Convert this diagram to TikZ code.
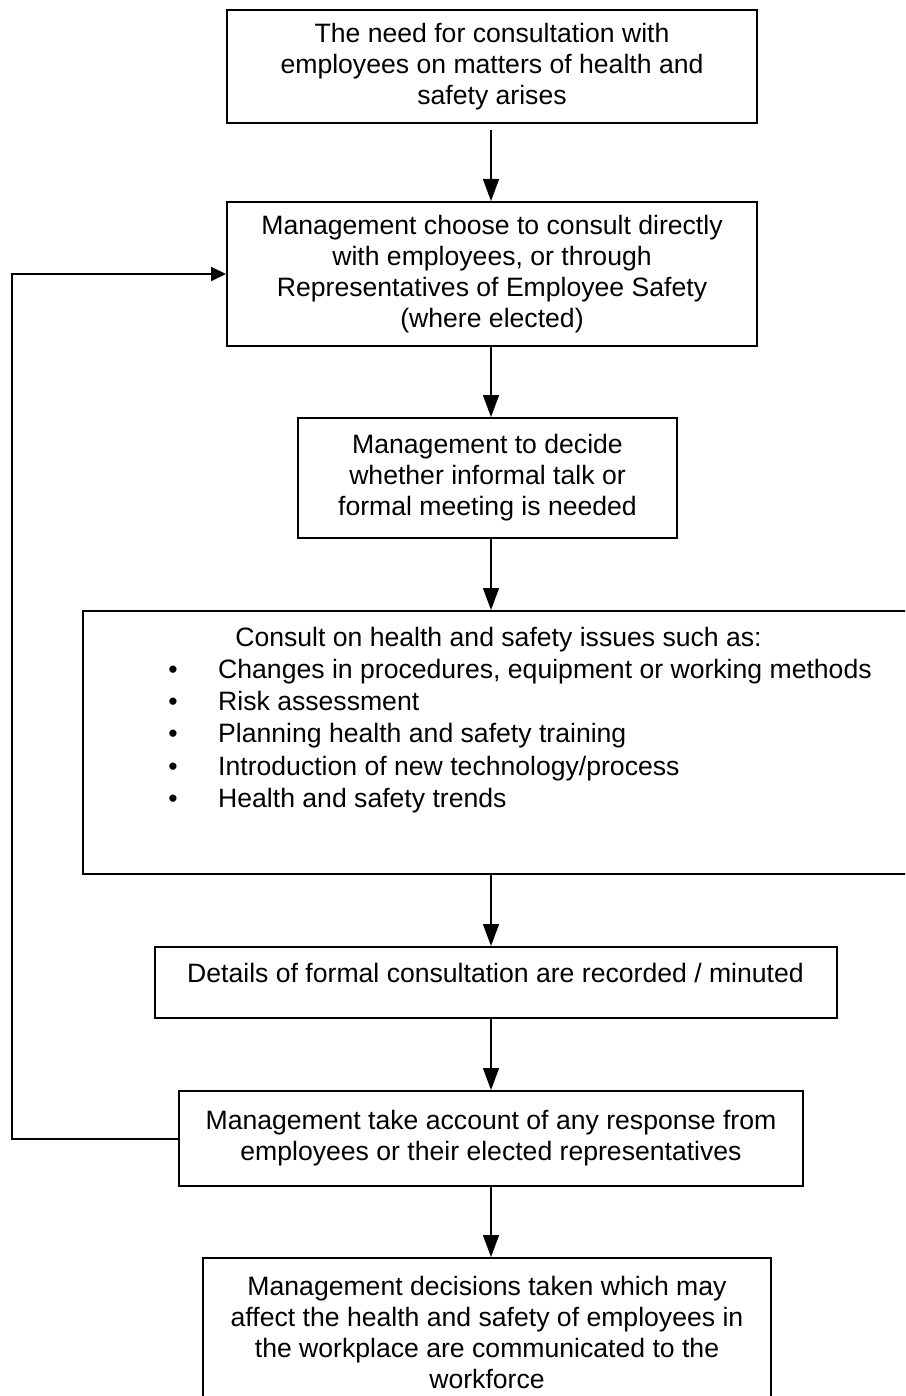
\documentclass[tikz,border=0pt]{standalone}
\usepackage{fontspec}
\setmainfont{Liberation Sans}
\usetikzlibrary{arrows.meta,calc}
\newcommand\flowfont{\fontsize{26.6}{31}\selectfont}

\tikzset{
  box/.style={draw=black, line width=2pt, inner sep=0pt, rectangle},
  txt/.style={font=\flowfont, align=center, inner sep=0pt},
  flow/.style={draw=black, line width=1.3pt, -{Triangle[length=22pt,width=16pt]}},
  loopback/.style={draw=black, line width=2pt, -{Triangle[length=15pt,width=14pt]}},
}

\begin{document}
\begin{tikzpicture}[x=1pt,y=-1pt]
  \useasboundingbox (0,0) rectangle (905,1396);
  \fill[white] (0,0) rectangle (905,1396);
  \clip (0,0) rectangle (905,1396);

  % vertical axis of the main flow and column of the return line
  \coordinate (ax) at (491,0);
  \coordinate (lp) at (11.5,0);

  % process boxes
  \node[box, txt, minimum width=530pt, minimum height=113pt] (b1) at (492,66.5)
    {The need for consultation with\\employees on matters of health and\\safety arises};
  \node[box, txt, minimum width=530pt, minimum height=144pt] (b2) at (492,274)
    {Management choose to consult directly\\with employees, or through\\Representatives of Employee Safety\\(where elected)};
  \node[box, txt, minimum width=379pt, minimum height=120pt] (b3) at (487.5,478)
    {Management to decide\\whether informal talk or\\formal meeting is needed};
  \node[box, minimum width=847pt, minimum height=263pt] (b4) at (506.5,742.5) {};
  \node[box, minimum width=682pt, minimum height=71pt] (b5) at (496,982.5) {};
  \node[box, txt, minimum width=624pt, minimum height=95pt] (b6) at (491,1138.5)
    {Management take account of any response from\\employees or their elected representatives};
  \node[box, minimum width=568pt, minimum height=162pt] (b7) at (487,1339) {};

  % texts of the top-aligned boxes
  \node[txt, anchor=base] (h4) at (498.5,646) {Consult on health and safety issues such as:};
  \foreach \itm [count=\i] in {{Changes in procedures, equipment or working methods},
                               {Risk assessment},
                               {Planning health and safety training},
                               {Introduction of new technology/process},
                               {Health and safety trends}} {
    \node[txt, anchor=base] (bul\i) at (173,678+32.4*\i-32.4) {\textbullet};
    \node[txt, anchor=base west] (itm\i) at (218,678+32.4*\i-32.4) {\itm};
  }
  \node[txt, anchor=base] (t5) at (495.5,982) {Details of formal consultation are recorded / minuted};
  \node[txt, anchor=north] (t7) at (487,1276)
    {Management decisions taken which may\\affect the health and safety of employees in\\the workplace are communicated to the\\workforce};

  % main flow
  \draw[flow, shorten <=6pt] (b1.south -| ax) -- (b2.north -| ax);
  \draw[flow] (b2.south -| ax) -- (b3.north -| ax);
  \draw[flow] (b3.south -| ax) -- (b4.north -| ax);
  \draw[flow] (b4.south -| ax) -- (b5.north -| ax);
  \draw[flow] (b5.south -| ax) -- (b6.north -| ax);
  \draw[flow] (b6.south -| ax) -- (b7.north -| ax);

  % return line from the response step back to the choice of consultation
  \draw[loopback] (b6.west) -- (b6.west -| lp) -- (b2.west -| lp) -- (b2.west);
\end{tikzpicture}
\end{document}
